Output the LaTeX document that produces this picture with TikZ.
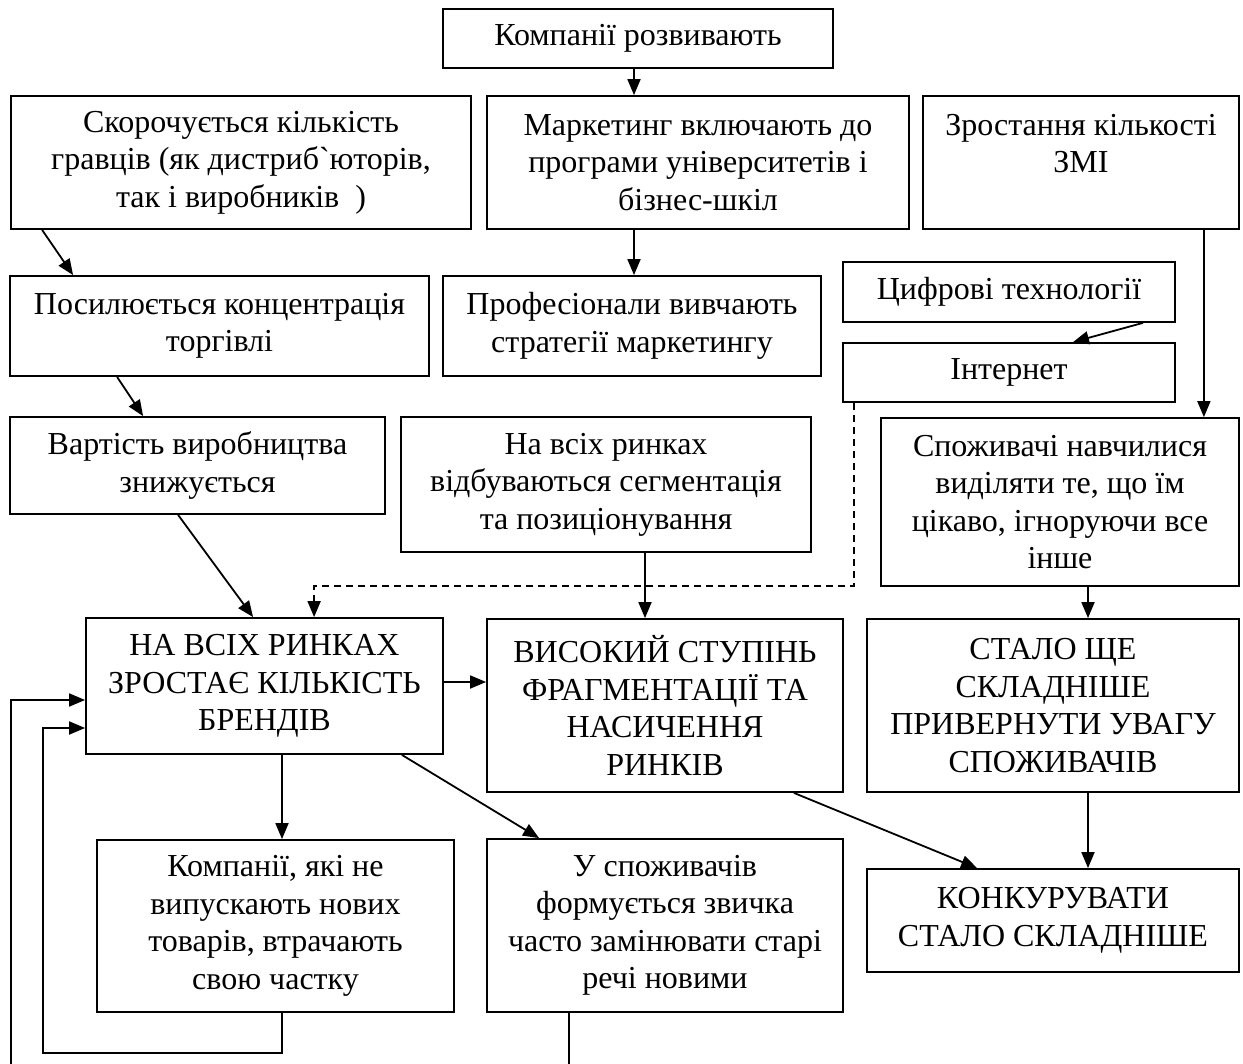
\documentclass[tikz,border=0pt]{standalone}
\usepackage{fontspec}
\setmainfont{Liberation Serif}
\newfontfamily\plainf[Ligatures=TeXOff]{Liberation Serif}
\usetikzlibrary{arrows.meta}
\begin{document}
\begin{tikzpicture}[x=1pt,y=-1pt,
  box/.style={draw, line width=1.8pt, align=center, inner sep=0pt,
    font=\fontsize{32}{37.5}\selectfont},
  arr/.style={line width=1.8pt, -{Triangle[length=16pt,width=13pt]}},
  dline/.style={line width=1.8pt, dash pattern=on 7pt off 5pt, -{Triangle[length=16pt,width=13pt]}},
  fline/.style={line width=1.8pt}]
\useasboundingbox (0,0) rectangle (1243,1064);
\node[box, minimum width=390pt, minimum height=59pt] (kr) at (638,38.5) {Компанії розвивають};
\node[box, minimum width=460pt, minimum height=133pt] (sk) at (241,162.5) {Скорочується кількість\\гравців (як дистриб{\plainf`}юторів,\\так і виробників~ )};
\node[box, minimum width=422pt, minimum height=133pt] (mk) at (698,162.5) {Маркетинг включають до\\програми університетів і\\бізнес-шкіл};
\node[box, minimum width=316pt, minimum height=133pt] (zr) at (1081,162.5) {Зростання кількості\\ЗМІ\\\phantom{ЗМІ}};
\node[box, minimum width=419pt, minimum height=100pt] (ps) at (219.5,326) {Посилюється концентрація\\торгівлі};
\node[box, minimum width=378pt, minimum height=100pt] (pf) at (632,326) {Професіонали вивчають\\стратегії маркетингу};
\node[box, minimum width=332pt, minimum height=60pt] (cf) at (1009,292) {Цифрові технології};
\node[box, minimum width=332pt, minimum height=59pt] (in) at (1009,372.5) {Інтернет};
\node[box, minimum width=375pt, minimum height=97pt] (vr) at (197.5,465.5) {Вартість виробництва\\знижується};
\node[box, minimum width=410pt, minimum height=135pt] (nv) at (606,484.5) {На всіх ринках\\відбуваються сегментація\\та позиціонування};
\node[box, minimum width=358pt, minimum height=168pt] (sp) at (1060,502) {Споживачі навчилися\\виділяти те, що їм\\цікаво, ігноруючи все\\інше};
\node[box, minimum width=357pt, minimum height=136pt] (NV) at (264.5,686) {НА ВСІХ РИНКАХ\\ЗРОСТАЄ КІЛЬКІСТЬ\\БРЕНДІВ};
\node[box, minimum width=356pt, minimum height=173pt] (VS) at (665,705.5) {ВИСОКИЙ СТУПІНЬ\\ФРАГМЕНТАЦІЇ ТА\\НАСИЧЕННЯ\\РИНКІВ};
\node[box, minimum width=372pt, minimum height=173pt] (SZ) at (1053,705.5) {СТАЛО ЩЕ\\СКЛАДНІШЕ\\ПРИВЕРНУТИ УВАГУ\\СПОЖИВАЧІВ};
\node[box, minimum width=372pt, minimum height=103pt] (KN) at (1053,920.5) {КОНКУРУВАТИ\\СТАЛО СКЛАДНІШЕ};
\node[box, minimum width=357pt, minimum height=172pt] (kn) at (275.5,926) {Компанії, які не\\випускають нових\\товарів, втрачають\\свою частку};
\node[box, minimum width=356pt, minimum height=173pt] (us) at (665,925.5) {У споживачів\\формується звичка\\часто замінювати старі\\речі новими};
% connectors
\draw[arr] ([xshift=-4pt]kr.south) -- ([xshift=-4pt]kr.south |- mk.north);
\draw[arr] ([xshift=2pt]pf.north |- mk.south) -- ([xshift=2pt]pf.north);
\draw[arr] ([xshift=32pt]sk.south west) -- ([xshift=64pt]ps.north west);
\draw[arr] ([xshift=108pt]ps.south west) -- ([xshift=134pt]vr.north west);
\draw[arr] ([xshift=169pt]vr.south west) -- ([xshift=168pt]NV.north west);
\coordinate (d1) at ([xshift=12pt,yshift=-183pt]in.south west);
\draw[dline] ([xshift=12pt]in.south west) -- (d1) -| ([xshift=229pt]NV.north west);
\draw[arr] ([xshift=39pt]nv.south) -- ([xshift=39pt]nv.south |- VS.north);
\draw[arr] ([xshift=-33pt]cf.south east) -- ([xshift=64pt]in.north);
\draw[arr] ([xshift=-36pt]zr.south east) -- ([xshift=-36pt]zr.south east |- sp.north);
\draw[arr] ([xshift=28pt]sp.south) -- ([xshift=28pt]sp.south |- SZ.north);
\draw[arr] ([yshift=4pt]NV.east) -- ([yshift=4pt]NV.east -| VS.west);
\draw[arr] ([xshift=6.5pt]kn.north |- NV.south) -- ([xshift=6.5pt]kn.north);
\draw[arr] ([xshift=-42pt]NV.south east) -- ([xshift=53pt]us.north west);
\draw[arr] ([xshift=-50pt]VS.south east) -- ([xshift=111pt]KN.north west);
\draw[arr] ([xshift=35pt]SZ.south) -- ([xshift=35pt]SZ.south |- KN.north);
\coordinate (f1) at ([xshift=6.5pt,yshift=-40pt]kn.south);
\coordinate (f1b) at (43,728);
\draw[arr] ([xshift=6.5pt]kn.south) -- (f1) -| (f1b) -- (f1b -| NV.west);
\coordinate (f2) at ([xshift=-96pt,yshift=-90pt]us.south);
\coordinate (f2b) at (11,700);
\draw[arr] ([xshift=-96pt]us.south) -- (f2) -| (f2b) -- (f2b -| NV.west);
\end{tikzpicture}
\end{document}
